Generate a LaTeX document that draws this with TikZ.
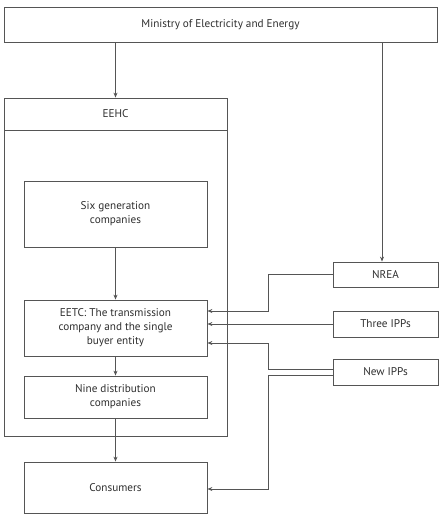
\documentclass[tikz,border=0pt]{standalone}
\usepackage{fontspec}
\setmainfont{PT Sans}
\usetikzlibrary{arrows.meta}
\definecolor{linegray}{HTML}{555555}
\definecolor{textgray}{HTML}{2E2E2E}
\tikzset{
  box/.style={draw=linegray, line width=0.8pt, inner sep=0pt, align=center,
    text=textgray, font=\fontsize{11.2}{14}\selectfont},
  arr/.style={draw=linegray, line width=0.8pt, -{Stealth[length=5pt,width=4pt]}},
  link/.style={draw=linegray, line width=0.8pt}
}
\begin{document}
\begin{tikzpicture}[x=1pt, y=-1pt]
  \useasboundingbox (0,0) rectangle (444,516);
  % Ministry
  \node[box, minimum width=433pt, minimum height=35pt] (ministry) at (220.5,24.5) {Ministry of Electricity and Energy};
  % EEHC group
  \node[box, minimum width=223pt, minimum height=338pt] (frame) at (115.5,267) {};
  \node[box, minimum width=223pt, minimum height=32pt] (eehc) at (115.5,114) {EEHC};
  \node[box, minimum width=183pt, minimum height=66pt] (gen) at (115.5,214) {Six generation\\companies};
  \node[box, minimum width=183pt, minimum height=56pt] (eetc) at (115.5,328) {EETC: The transmission\\company and the single\\buyer entity};
  \node[box, minimum width=183pt, minimum height=42pt] (dist) at (115.5,397) {Nine distribution\\companies};
  \node[box, minimum width=183pt, minimum height=51pt] (cons) at (115.5,487.5) {Consumers};
  % Right side
  \node[box, minimum width=105pt, minimum height=25pt] (nrea) at (385.5,274.5) {NREA};
  \node[box, minimum width=105pt, minimum height=26pt] (three) at (385.5,324) {Three IPPs};
  \node[box, minimum width=105pt, minimum height=26pt] (newipp) at (385.5,372) {New IPPs};

  % Vertical flow
  \draw[arr] (eehc.north |- ministry.south) -- (eehc.north);
  \draw[arr] ([xshift=-3.5pt]nrea.north |- ministry.south) -- ([xshift=-3.5pt]nrea.north);
  \draw[arr] (gen) -- (eetc);
  \draw[arr] (eetc) -- (dist);
  \draw[arr] (dist) -- (cons);

  % Links into EETC and consumers
  \draw[arr] (nrea.west) -- ++(-64,0) |- ([yshift=17pt]eetc.east);
  \draw[arr] (three.west) -- (three.west -| eetc.east);
  \draw[arr] ([yshift=3pt]newipp.west) -- ++(-64,0) |- ([yshift=-15pt]eetc.east);
  \draw[arr] ([yshift=-3pt]newipp.west) -- ++(-64,0) |- ([yshift=-1.5pt]cons.east);
\end{tikzpicture}
\end{document}
